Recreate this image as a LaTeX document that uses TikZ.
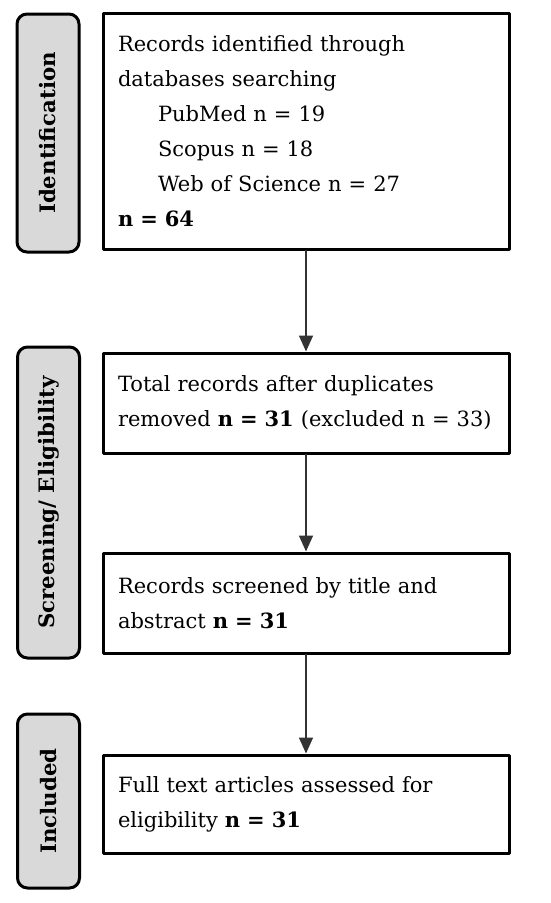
\documentclass[tikz,border=0pt]{standalone}
\usepackage{fontspec}
\setmainfont{DejaVu Serif}
\usetikzlibrary{arrows.meta}
\definecolor{PhaseGray}{HTML}{D9D9D9}
\definecolor{ArrowGray}{HTML}{333333}

\begin{document}
\begin{tikzpicture}[x=1pt,y=-1pt,line cap=round,line join=round,
  stagebox/.style={draw,line width=3pt,inner xsep=15pt,text width=376pt,align=left,
    font=\fontsize{21}{35}\selectfont},
  phase/.style={draw,fill=PhaseGray,line width=3pt,rounded corners=10pt,rotate=90,
    minimum height=62pt,inner sep=0pt,font=\bfseries\fontsize{21.3}{28}\selectfont},
  flow/.style={ArrowGray,line width=1.5pt,-{Triangle[width=14pt,length=16pt]}}]
  \useasboundingbox (0,0) rectangle (550,903);
  % phase labels
  \node[phase,minimum width=238pt] (lid) at (48,133) {Identification};
  \node[phase,minimum width=311pt] (lscr) at (48.5,502.5) {Screening/ Eligibility};
  \node[phase,minimum width=174pt] (linc) at (48.5,801) {Included};
  % boxes
  \node[stagebox,minimum height=236pt] (ident) at (306,131) {Records identified through\\databases searching\\
    \hspace*{40pt}PubMed n = 19\\\hspace*{40pt}Scopus n = 18\\\hspace*{40pt}Web of Science n = 27\\\textbf{n = 64}};
  \node[stagebox,minimum height=100pt] (dup) at (306,403) {Total records after duplicates\\removed \textbf{n = 31} (excluded n = 33)};
  \node[stagebox,minimum height=100pt] (screen) at (306,603) {Records screened by title and\\abstract \textbf{n = 31}};
  \node[stagebox,minimum height=98pt] (full) at (306,804) {Full text articles assessed for\\eligibility \textbf{n = 31}};
  % arrows
  \draw[flow] (ident.south) -- (dup.north);
  \draw[flow] (dup.south) -- (screen.north);
  \draw[flow] (screen.south) -- (full.north);
\end{tikzpicture}
\end{document}
